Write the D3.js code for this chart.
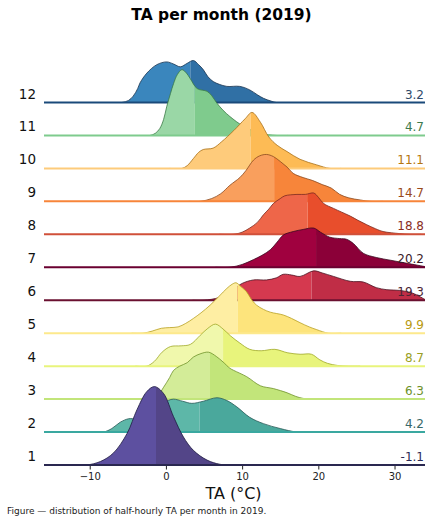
<!DOCTYPE html>
<html>
<head>
<meta charset="utf-8">
<script src="https://cdn.jsdelivr.net/npm/d3@7"></script>
<style>
  body { margin: 0; background: #fff; }
  svg { font-family: "DejaVu Sans", sans-serif; }
</style>
</head>
<body>
<div id="chart"></div>
<script>
// ===========================
// TA ridgeline, one ridge per month (2019)
// ===========================

const months = [1, 2, 3, 4, 5, 6, 7, 8, 9, 10, 11, 12];
const means = [-1.1, 4.2, 6.3, 8.7, 9.9, 19.3, 20.2, 18.8, 14.7, 11.1, 4.7, 3.2];
const medians = [-1.3, 4.4, 5.8, 7.5, 9.4, 19.1, 19.7, 18.6, 14.2, 11.1, 3.8, 3.2];
const xTicks = [-10, 0, 10, 20, 30];

// density curves: temperature (°C) and density (% per °C)
const janT = [-12.0, -10.4, -8.6, -6.9, -5.1, -3.8, -2.5, -1.5, -0.3, 1.0, 2.3, 3.6, 5.4, 7.1, 8.8];
const janD = [0, 0, 0.5, 1.7, 4.5, 7.9, 10.5, 11.2, 10.2, 6.9, 4.0, 2.1, 0.7, 0.1, 0];
const febT = [-10.0, -8.2, -7.1, -6.0, -4.9, -3.8, -2.5, -1.0, 0.3, 1.0, 2.2, 3.4, 4.9, 6.7, 8.0, 9.3, 11.0, 12.8, 15.0, 17.2, 19.0];
const febD = [0, 0, 0.5, 1.4, 1.9, 1.9, 2.4, 3.4, 4.5, 4.7, 4.4, 4.1, 4.4, 4.9, 4.5, 3.6, 2.1, 1.2, 0.5, 0, 0];
const marT = [-3.5, -2.0, -1.0, -0.3, 0.5, 1.0, 1.8, 2.8, 3.6, 4.6, 5.6, 6.6, 7.5, 8.4, 8.9, 10.6, 12.4, 14.1, 15.9, 17.0, 18.0, 19.5, 21.0];
const marD = [0, 0, 0.6, 1.7, 3.1, 4.1, 4.7, 5.2, 6.0, 6.5, 6.7, 6.1, 5.3, 4.4, 4.1, 3.2, 1.9, 1.5, 0.9, 0.4, 0.1, 0, 0];
const aprT = [-4.0, -2.5, -1.5, -0.5, 0.6, 2.0, 3.2, 4.5, 5.5, 6.5, 7.5, 8.5, 9.7, 11.0, 12.5, 14.3, 16.0, 17.6, 19.1, 20.2, 21.2, 22.5, 24.0, 25.5];
const aprD = [0, 0, 0.7, 2.0, 2.8, 2.9, 3.1, 4.4, 5.4, 6.0, 5.3, 4.3, 3.3, 2.4, 2.2, 2.4, 1.9, 1.7, 1.7, 0.9, 0.4, 0.1, 0, 0];
const mayT = [-4.5, -3.0, -1.8, -0.6, 0.5, 1.6, 2.6, 3.6, 4.6, 5.8, 7.0, 8.0, 8.7, 9.2, 9.8, 10.6, 11.3, 11.9, 12.8, 13.7, 15.4, 16.5, 17.6, 18.8, 19.8, 21.3, 23.0];
const mayD = [0, 0, 0.3, 0.7, 0.8, 0.9, 1.4, 2.1, 2.9, 4.0, 5.3, 6.4, 7.0, 7.2, 6.7, 5.9, 4.7, 4.0, 3.4, 3.0, 2.6, 2.1, 1.5, 0.9, 0.5, 0, 0];
const junT = [3.5, 5.0, 7.0, 8.5, 10.0, 11.5, 13.2, 14.5, 15.4, 16.5, 17.6, 19.4, 20.5, 22.0, 24.2, 25.9, 27.6, 29.0, 30.7, 32.4, 34.0];
const junD = [0, 0, 0.4, 1.3, 2.4, 2.9, 2.9, 3.2, 3.7, 3.6, 3.4, 4.2, 3.9, 3.4, 2.7, 2.6, 1.8, 1.5, 1.4, 1.0, 0.1];
const julT = [6.5, 8.4, 10.0, 11.5, 12.6, 13.7, 14.6, 15.4, 16.7, 18.0, 19.4, 20.3, 21.5, 22.8, 23.7, 24.6, 25.9, 27.6, 29.5, 31.5, 34.0];
const julD = [0, 0, 0.4, 1.1, 1.7, 2.5, 3.6, 4.6, 5.1, 5.4, 5.6, 5.0, 4.3, 4.1, 4.0, 3.4, 2.0, 1.4, 1.0, 0.6, 0.1];
const augT = [7.0, 8.9, 10.0, 11.0, 12.0, 12.8, 13.5, 14.1, 15.0, 15.6, 17.2, 18.3, 19.4, 20.0, 20.7, 22.0, 23.0, 24.2, 25.2, 26.3, 27.5, 28.5, 30.7, 32.0, 33.5];
const augD = [0, 0, 0.3, 0.9, 1.7, 2.8, 3.6, 4.4, 5.1, 5.5, 5.7, 5.7, 5.9, 5.3, 4.4, 3.7, 3.2, 2.6, 2.0, 1.4, 0.8, 0.4, 0.1, 0, 0];
const sepT = [3.0, 4.5, 6.0, 7.2, 8.4, 9.7, 10.5, 11.5, 12.3, 13.2, 14.1, 15.0, 15.9, 16.7, 18.0, 19.2, 20.5, 21.7, 22.8, 24.0, 25.5, 26.8, 28.5];
const sepD = [0, 0, 0.4, 1.1, 2.3, 3.4, 4.4, 5.9, 6.5, 6.7, 6.4, 5.7, 4.9, 4.0, 3.4, 3.0, 2.4, 1.9, 1.0, 0.5, 0.2, 0, 0];
const octT = [0.5, 2.1, 2.8, 3.6, 4.3, 4.9, 6.2, 7.3, 8.9, 10.4, 11.3, 12.4, 13.5, 14.6, 15.9, 17.6, 19.8, 21.5, 23.0];
const octD = [0, 0, 0.4, 1.4, 2.3, 2.7, 2.9, 3.8, 5.4, 7.1, 8.0, 6.6, 4.5, 3.3, 2.4, 1.3, 0.5, 0, 0];
const novT = [-3.5, -2.1, -1.4, -0.8, -0.3, 0.1, 0.6, 1.0, 1.5, 2.1, 2.7, 3.2, 4.1, 5.4, 6.0, 6.7, 7.5, 8.4, 10.2, 12.4, 14.5, 16.0];
const novD = [0, 0, 0.3, 1.0, 2.3, 4.1, 6.0, 7.4, 8.7, 9.4, 8.9, 8.1, 6.7, 6.3, 5.7, 4.6, 3.6, 2.7, 1.3, 0.3, 0, 0];
const decT = [-7.3, -5.8, -4.9, -4.3, -3.7, -3.4, -2.5, -1.2, 0.1, 1.0, 1.9, 2.8, 3.6, 4.3, 4.9, 5.5, 6.2, 7.0, 8.0, 9.7, 11.0, 12.0, 12.8, 13.8, 14.5, 16.0];
const decD = [0, 0, 0.3, 0.9, 2.0, 2.8, 4.2, 5.4, 5.8, 5.5, 5.1, 5.6, 6.0, 5.4, 4.7, 3.7, 3.0, 2.6, 2.3, 2.3, 1.8, 1.1, 0.6, 0.2, 0, 0];

const gridT = [janT, febT, marT, aprT, mayT, junT, julT, augT, sepT, octT, novT, decT];
const gridD = [janD, febD, marD, aprD, mayD, junD, julD, augD, sepD, octD, novD, decD];

// palette per month: left of median, right of median, outline, baseline, mean label
const fillLo = ["#5d50a0", "#5db7a8", "#d3ec98", "#f0f8ac", "#feeea3", "#d5394f", "#a0013f", "#ee6649", "#f99f5d", "#fecb7b", "#9ad7a6", "#3a86bd"];
const fillHi = ["#534588", "#4aa89c", "#c2e57a", "#e8f47c", "#fde47c", "#c02d46", "#8b0038", "#e84e2c", "#f7853a", "#fdbb55", "#7fcb8d", "#3070a5"];
const edge = ["#1e1a40", "#2a5a58", "#6e922a", "#a0a828", "#b8a020", "#4a1020", "#3a0a20", "#7a2a20", "#8a4a20", "#a87018", "#3a7a45", "#1a3550"];
const baseCol = ["#2a2850", "#3aa8a0", "#c2e57a", "#e8f47c", "#fde98c", "#6a1030", "#6a0030", "#d0503a", "#f7853a", "#fdcb7b", "#7ecb8d", "#1a4a7a"];
const labelCol = ["#2c2a55", "#386868", "#6e922a", "#9aa025", "#b89a10", "#4a2533", "#3b1a2a", "#8a2e1e", "#9a4a1a", "#b5760f", "#3d7a4c", "#304a6a"];

const W = 431, H = 523;
const left = 44, right = 425;

const svg = d3.select("#chart").append("svg")
  .attr("width", W)
  .attr("height", H);

const x = d3.scaleLinear().domain([-16, 34]).range([left, right]);
const row = d3.scalePoint().domain(months).range([465, 102.5]);
const dens = d3.scaleLinear().domain([0, 10]).range([0, -70]);

const defs = svg.append("defs");

// title
svg.append("text")
  .attr("x", 221.5)
  .attr("y", 20)
  .attr("text-anchor", "middle")
  .style("font-size", "15.5px")
  .style("font-weight", "bold")
  .style("fill", "#000")
  .text("TA per month (2019)");

// draw top (December) first so lower months sit on top
const order = months.slice().reverse();
const curve = d3.curveCatmullRom.alpha(0.5);

order.forEach(m => {
  const i = m - 1;
  const pts = gridT[i].map((t, j) => [t, gridD[i][j]]);
  const g = svg.append("g")
    .attr("class", "ridge")
    .attr("transform", `translate(0,${row(m)})`);

  const area = d3.area()
    .x(d => x(d[0]))
    .y0(0)
    .y1(d => Math.min(0, dens(d[1])))
    .curve(curve);
  const line = d3.line()
    .x(d => x(d[0]))
    .y(d => dens(d[1]))
    .curve(curve);

  // split the ridge at the median, clip everything to the plot width
  const split = x(medians[i]);
  defs.append("clipPath").attr("id", `lo-${m}`)
    .append("rect").attr("x", left).attr("y", -200).attr("width", split - left).attr("height", 200);
  defs.append("clipPath").attr("id", `hi-${m}`)
    .append("rect").attr("x", split).attr("y", -200).attr("width", right - split).attr("height", 200);
  defs.append("clipPath").attr("id", `all-${m}`)
    .append("rect").attr("x", left).attr("y", -200).attr("width", right - left).attr("height", 200);

  g.append("path")
    .datum(pts)
    .attr("d", area)
    .attr("clip-path", `url(#lo-${m})`)
    .style("fill", fillLo[i]);

  g.append("path")
    .datum(pts)
    .attr("d", area)
    .attr("clip-path", `url(#hi-${m})`)
    .style("fill", fillHi[i]);

  g.append("path")
    .datum(pts)
    .attr("d", line)
    .attr("clip-path", `url(#all-${m})`)
    .style("fill", "none")
    .style("stroke", edge[i])
    .style("stroke-width", 0.8);

  g.append("line")
    .attr("x1", left)
    .attr("x2", right)
    .attr("y1", 0)
    .attr("y2", 0)
    .style("stroke", baseCol[i])
    .style("stroke-width", 2);

  g.append("text")
    .attr("x", 36)
    .attr("y", -4)
    .attr("text-anchor", "end")
    .style("font-size", "13.5px")
    .style("fill", "#111")
    .text(m);

  g.append("text")
    .attr("x", 424)
    .attr("y", -4)
    .attr("text-anchor", "end")
    .style("font-size", "12px")
    .style("fill", labelCol[i])
    .text(d3.format(".1f")(means[i]).replace("\u2212", "-"));
});

// x axis
const axis = svg.append("g")
  .attr("transform", `translate(0,${row(1) + 1})`)
  .call(d3.axisBottom(x).tickValues(xTicks).tickSize(3.5).tickFormat(d3.format("d")));
axis.select(".domain").remove();
axis.selectAll("text")
  .style("font-family", "DejaVu Sans, sans-serif")
  .style("font-size", "10px")
  .style("fill", "#222");
axis.selectAll("line").style("stroke", "#222");

svg.append("text")
  .attr("x", 233.5)
  .attr("y", 499)
  .attr("text-anchor", "middle")
  .style("font-size", "16px")
  .style("fill", "#111")
  .text("TA (°C)");

svg.append("text")
  .attr("x", 7)
  .attr("y", 514)
  .style("font-size", "9px")
  .style("fill", "#222")
  .text("Figure — distribution of half-hourly TA per month in 2019.");
</script>
</body>
</html>
